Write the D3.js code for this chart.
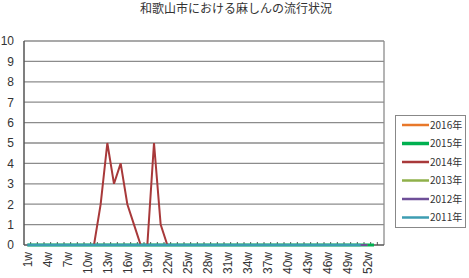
<!DOCTYPE html>
<html>
<head>
<meta charset="utf-8">
<script src="https://cdn.jsdelivr.net/npm/d3@7"></script>
<style>
  body { margin: 0; background: #fff; }
  text { font-family: "Noto Sans CJK JP", "Liberation Sans", sans-serif; fill: #333; }
</style>
</head>
<body>
<svg id="chart" width="469" height="278"></svg>
<script>
"use strict";

var title = "和歌山市における麻しんの流行状況";

// week categories (54 slots on the axis, the last one is empty)
var weeks = ["1w","2w","3w","4w","5w","6w","7w","8w","9w","10w",
  "11w","12w","13w","14w","15w","16w","17w","18w","19w","20w",
  "21w","22w","23w","24w","25w","26w","27w","28w","29w","30w",
  "31w","32w","33w","34w","35w","36w","37w","38w","39w","40w",
  "41w","42w","43w","44w","45w","46w","47w","48w","49w","50w",
  "51w","52w","53w",""];

var yTicks = [0,1,2,3,4,5,6,7,8,9,10];

var y2016 = [0,0,0,0,0,0,0,0];
var y2015 = [0,0,0,0,0,0,0,0,0,0, 0,0,0,0,0,0,0,0,0,0, 0,0,0,0,0,0,0,0,0,0,
  0,0,0,0,0,0,0,0,0,0, 0,0,0,0,0,0,0,0,0,0, 0,0,0];
var y2014 = [0,0,0,0,0,0,0,0,0,0, 0,2,5,3,4,2,1,0,0,5, 1,0,0,0,0,0,0,0,0,0,
  0,0,0,0,0,0,0,0,0,0, 0,0,0,0,0,0,0,0,0,0, 0,0];
var y2013 = [0,0,0,0,0,0,0,0,0,0, 0,0,0,0,0,0,0,0,0,0, 0,0,0,0,0,0,0,0,0,0,
  0,0,0,0,0,0,0,0,0,0, 0,0,0,0,0,0,0,0,0,0, 0,0];
var y2012 = [0,0,0,0,0,0,0,0,0,0, 0,0,0,0,0,0,0,0,0,0, 0,0,0,0,0,0,0,0,0,0,
  0,0,0,0,0,0,0,0,0,0, 0,0,0,0,0,0,0,0,0,0, 0,0];
var y2011 = [0,0,0,0,0,0,0,0,0,0, 0,0,0,0,0,0,0,0,0,0, 0,0,0,0,0,0,0,0,0,0,
  0,0,0,0,0,0,0,0,0,0, 0,0,0,0,0,0,0,0,0,0, 0];

// legend order (top to bottom) = drawing order, 2011 ends up on top
var series = [
  { name: "2016年", values: y2016, color: "#e8782a", width: 2 },
  { name: "2015年", values: y2015, color: "#00b050", width: 3 },
  { name: "2014年", values: y2014, color: "#a8393a", width: 2 },
  { name: "2013年", values: y2013, color: "#8fb04a", width: 2 },
  { name: "2012年", values: y2012, color: "#6e4f98", width: 2 },
  { name: "2011年", values: y2011, color: "#3d9db2", width: 2.5 }
];

var plotLeft = 24, plotRight = 384, plotTop = 41, plotBottom = 245;

var svg = d3.select("#chart");

var x = d3.scaleBand().domain(weeks).range([plotLeft, plotRight]).padding(0);
var y = d3.scaleLinear().domain([0, 10]).range([plotBottom, plotTop]);

svg.append("text")
  .attr("x", 236).attr("y", 13)
  .attr("text-anchor", "middle")
  .style("font-size", "12px")
  .text(title);

// gridlines
svg.append("g").selectAll("line")
  .data(yTicks.filter(function (d) { return d > 0; }))
  .enter().append("line")
  .attr("x1", plotLeft).attr("x2", plotRight)
  .attr("y1", function (d) { return y(d); })
  .attr("y2", function (d) { return y(d); })
  .attr("stroke", "#8c8c8c").attr("stroke-width", 1.3);

// right border
svg.append("line")
  .attr("x1", plotRight).attr("x2", plotRight).attr("y1", plotTop).attr("y2", plotBottom)
  .attr("stroke", "#8c8c8c").attr("stroke-width", 1.3);

// y axis
var yAxis = svg.append("g")
  .attr("transform", "translate(" + plotLeft + ",0)")
  .call(d3.axisLeft(y).tickValues(yTicks).tickSize(0).tickPadding(10));
yAxis.select(".domain").remove();
yAxis.selectAll("text").style("font-size", "12px").style("font-family", "Liberation Sans, sans-serif");

svg.append("line")
  .attr("x1", plotLeft).attr("x2", plotLeft).attr("y1", plotTop).attr("y2", plotBottom)
  .attr("stroke", "#555").attr("stroke-width", 1.5);

// x axis labels
var xAxis = svg.append("g")
  .attr("transform", "translate(0," + plotBottom + ")")
  .call(d3.axisBottom(x)
    .tickValues(weeks.filter(function (d, i) { return i % 3 === 0 && d !== ""; }))
    .tickSize(0));
xAxis.select(".domain").remove();
xAxis.selectAll("text")
  .attr("transform", "rotate(-90)")
  .attr("text-anchor", "end")
  .attr("x", -7).attr("y", 0).attr("dy", "0.35em")
  .style("font-size", "12px")
  .style("font-family", "Liberation Sans, sans-serif");

// small tick marks at category boundaries
svg.append("g").selectAll("line")
  .data(weeks.slice(1))
  .enter().append("line")
  .attr("x1", function (d) { return x(d); })
  .attr("x2", function (d) { return x(d); })
  .attr("y1", plotBottom).attr("y2", plotBottom - 3)
  .attr("stroke", "#555").attr("stroke-width", 1);

svg.append("line")
  .attr("x1", plotLeft).attr("x2", plotRight).attr("y1", plotBottom).attr("y2", plotBottom)
  .attr("stroke", "#555").attr("stroke-width", 1.5);

// lines
var line = d3.line()
  .x(function (d, i) { return x(weeks[i]) + x.bandwidth() / 2; })
  .y(function (d) { return y(d); });

series.forEach(function (s) {
  svg.append("path")
    .datum(s.values)
    .attr("fill", "none")
    .attr("stroke", s.color)
    .attr("stroke-width", s.width)
    .attr("d", line);
});

// legend
var legend = svg.append("g");
legend.append("rect")
  .attr("x", 395.5).attr("y", 115.5).attr("width", 70).attr("height", 112)
  .attr("fill", "#fff").attr("stroke", "#888");

var item = legend.selectAll("g.item")
  .data(series)
  .enter().append("g")
  .attr("class", "item")
  .attr("transform", function (d, i) { return "translate(0," + (125 + i * 18.5) + ")"; });
item.append("line")
  .attr("x1", 402).attr("x2", 429)
  .attr("stroke", function (d) { return d.color; })
  .attr("stroke-width", function (d) { return d.width === 3 ? 3.5 : 2.5; });
item.append("text")
  .attr("x", 430).attr("dy", "0.35em")
  .style("font-size", "10px")
  .text(function (d) { return d.name; });
</script>
</body>
</html>
